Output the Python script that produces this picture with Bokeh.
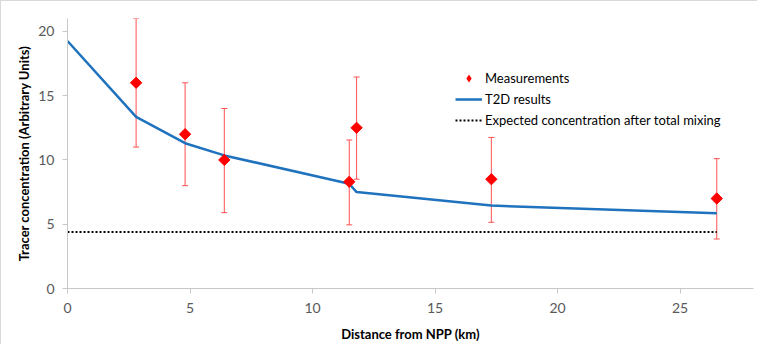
import numpy as np
from bokeh.plotting import figure
from bokeh.models import ColumnDataSource, Whisker, TeeHead, Legend, LegendItem, Range1d, FixedTicker
from bokeh.embed import file_html
from bokeh.resources import INLINE

# Measurements
meas_x = [2.8, 4.8, 6.4, 11.5, 11.8, 17.3, 26.5]
meas_y = [16.0, 12.0, 10.0, 8.3, 12.5, 8.5, 7.0]
meas_upper = [21.0, 16.0, 14.0, 11.55, 16.45, 11.75, 10.1]
meas_lower = [11.0, 8.0, 5.9, 4.95, 8.5, 5.15, 3.85]

# T2D model results
t2d_x = [0.0, 2.8, 4.8, 6.4, 11.5, 11.8, 17.3, 26.5]
t2d_y = [19.25, 13.35, 11.3, 10.35, 8.15, 7.5, 6.45, 5.85]

# Expected concentration after total mixing
mix_x = [0.0, 26.5]
mix_y = [4.4, 4.4]

x_ticks = [0, 5, 10, 15, 20, 25]
y_ticks = [0, 5, 10, 15, 20]

FONT = "Lato"

p = figure(width=757, height=344, output_backend="svg", toolbar_location=None,
           x_range=Range1d(0, 28), y_range=Range1d(0, 21),
           min_border_left=66, min_border_right=5, min_border_top=17, min_border_bottom=57)
p.outline_line_color = None
p.xgrid.visible = False
p.ygrid.visible = False
p.styles = {"border-top": "1px solid #d9d9d9", "border-left": "1px solid #d9d9d9"}

src = ColumnDataSource(dict(x=meas_x, y=meas_y, upper=meas_upper, lower=meas_lower))

mix = p.line(mix_x, mix_y, line_color="black", line_width=2, line_dash="2 2")
t2d = p.line(t2d_x, t2d_y, line_color="#1f72bd", line_width=2.5)

wh = Whisker(source=src, base="x", upper="upper", lower="lower",
             line_color="#ff5050", line_width=1,
             upper_head=TeeHead(size=6, line_color="#ff5050", line_width=1),
             lower_head=TeeHead(size=6, line_color="#ff5050", line_width=1))
p.add_layout(wh)

# diamond key (hidden under the rotated squares, used for the legend swatch)
meas_key = p.scatter("x", "y", source=src, marker="diamond", size=9,
                     fill_color="#ff0000", line_color=None)
meas = p.scatter("x", "y", source=src, marker="square", angle=np.pi / 4, size=8,
                 fill_color="#ff0000", line_color="#ff0000")

for ax in (p.xaxis[0], p.yaxis[0]):
    ax.axis_line_color = "#c8c8c8"
    ax.major_tick_line_color = "#c8c8c8"
    ax.minor_tick_line_color = None
    ax.major_tick_in = 0
    ax.major_tick_out = 5
    ax.major_label_text_font = FONT
    ax.major_label_text_font_size = "14px"
    ax.major_label_text_color = "#595959"
    ax.axis_label_text_font = FONT
    ax.axis_label_text_font_size = "13px"
    ax.axis_label_text_font_style = "bold"
    ax.axis_label_text_color = "#000000"

p.xaxis.ticker = FixedTicker(ticks=x_ticks)
p.yaxis.ticker = FixedTicker(ticks=y_ticks)
p.xaxis.axis_label = "Distance from NPP (km)"
p.yaxis.axis_label = "Tracer concentration (Arbitrary Units)"
p.xaxis.major_label_standoff = 9
p.yaxis.major_label_standoff = 8
p.xaxis.axis_label_standoff = 10
p.yaxis.axis_label_standoff = 3

legend = Legend(items=[
    LegendItem(label="Measurements", renderers=[meas_key]),
    LegendItem(label="T2D results", renderers=[t2d]),
    LegendItem(label="Expected concentration after total mixing", renderers=[mix]),
], location=(388, 158))
legend.background_fill_alpha = 0
legend.border_line_alpha = 0
legend.label_text_font = FONT
legend.label_text_font_size = "13px"
legend.label_text_color = "#000000"
legend.glyph_width = 27
legend.glyph_height = 20
legend.label_height = 20
legend.spacing = 1
legend.padding = 0
legend.margin = 0
legend.label_standoff = 3
p.add_layout(legend, "center")

open("out.html", "w").write(file_html(p, INLINE))
